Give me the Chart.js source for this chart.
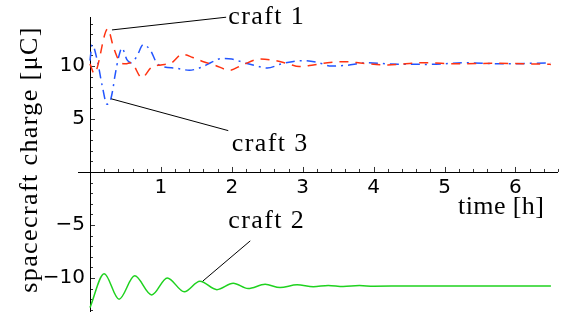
<!DOCTYPE html>
<html>
<head>
<meta charset="utf-8">
<script src="https://cdn.jsdelivr.net/npm/chart.js@4.4.1/dist/chart.umd.min.js"></script>
<style>
  html, body { margin: 0; padding: 0; background: #fff; }
  #wrap { width: 563px; height: 328px; }
</style>
</head>
<body>
<div id="wrap"><canvas id="chart"></canvas></div>
<script>
// craft 1 (red, dashed)
const craft1Time = [0, 0.06, 0.25, 0.33, 0.42, 0.5, 0.58, 0.73, 0.87, 1.0, 1.15, 1.3, 1.45, 1.6, 1.75, 1.97, 2.15, 2.4, 2.62, 2.8, 2.95, 3.15, 3.35, 3.6, 3.85, 4.2, 4.7, 5.2, 5.7, 6.2, 6.5];
const craft1Charge = [10.2, 9.3, 13.5, 11.8, 10.4, 10.2, 10.3, 8.9, 9.9, 10.1, 10.3, 11.1, 10.8, 10.4, 10.1, 9.6, 10.1, 10.65, 10.5, 10.2, 9.95, 10.1, 10.3, 10.4, 10.25, 10.1, 10.3, 10.2, 10.25, 10.2, 10.15];

// craft 2 (green, solid)
const craft2Time = [0, 0.2, 0.41, 0.63, 0.87, 1.09, 1.33, 1.55, 1.79, 2.02, 2.23, 2.47, 2.68, 2.92, 3.15, 3.36, 3.57, 3.8, 4.0, 4.5, 5.0, 6.5];
const craft2Charge = [-12.8, -9.6, -12.0, -9.8, -11.6, -10.0, -11.3, -10.3, -11.1, -10.5, -11.0, -10.6, -10.9, -10.65, -10.82, -10.7, -10.8, -10.72, -10.78, -10.75, -10.76, -10.75];

// craft 3 (blue, dash-dot)
const craft3Time = [0, 0.03, 0.11, 0.17, 0.24, 0.28, 0.32, 0.35, 0.41, 0.45, 0.52, 0.58, 0.66, 0.75, 0.85, 0.94, 1.05, 1.2, 1.4, 1.58, 1.7, 1.85, 2.0, 2.2, 2.35, 2.5, 2.7, 2.85, 3.0, 3.2, 3.4, 3.6, 3.9, 4.2, 4.8, 5.3, 5.8, 6.5];
const craft3Charge = [10.5, 12.0, 10.3, 8.2, 6.4, 6.6, 7.7, 9.0, 11.0, 11.7, 10.6, 10.3, 10.9, 12.0, 11.5, 10.3, 9.9, 9.8, 9.6, 9.9, 10.3, 10.7, 10.65, 10.25, 10.0, 9.8, 10.2, 10.4, 10.5, 10.35, 10.0, 10.05, 10.3, 10.2, 10.15, 10.3, 10.2, 10.3];

// tick labels
const xTickValues = [1, 2, 3, 4, 5, 6];
const xTickLabels = ["1", "2", "3", "4", "5", "6"];
const yTickValues = [-10, -5, 5, 10];
const yTickLabels = ["\u221210", "\u22125", "5", "10"];

const craftNames = ["craft 1", "craft 2", "craft 3"];

function toPoints(xs, ys) {
  return xs.map((t, i) => ({ x: t, y: ys[i] }));
}

// leader lines + labels, in data units
const notes = [
  { text: craftNames[0], tip: [0.31, 13.4], end: [1.92, 14.6], at: [1.95, 14.0] },
  { text: craftNames[1], tip: [1.59, -10.3], end: [2.26, -6.5], at: [1.95, -5.3] },
  { text: craftNames[2], tip: [0.30, 6.9], end: [1.95, 3.9], at: [2.0, 2.0] }
];

// Mathematica-like axes crossing at origin, ticks on the inside
const axesPlugin = {
  id: "mmaAxes",
  beforeDatasetsDraw(chart) {
    const { ctx, chartArea, scales: { x, y } } = chart;
    const x0 = x.getPixelForValue(0);
    const y0 = y.getPixelForValue(0);
    ctx.save();
    ctx.strokeStyle = "#000";
    ctx.lineWidth = 1;
    ctx.beginPath();
    ctx.moveTo(Math.round(x0) + 0.5, chartArea.top);
    ctx.lineTo(Math.round(x0) + 0.5, chartArea.bottom);
    ctx.moveTo(chartArea.left - 12, Math.round(y0) + 0.5);
    ctx.lineTo(chartArea.right, Math.round(y0) + 0.5);
    ctx.stroke();

    ctx.lineWidth = 0.8;
    ctx.beginPath();
    for (let k = 1; k <= 33; k++) {
      const t = k * 0.2;
      const px = Math.round(x.getPixelForValue(t)) + 0.5;
      const len = k % 5 === 0 ? 5 : 3;
      ctx.moveTo(px, y0);
      ctx.lineTo(px, y0 - len);
    }
    for (let v = -13; v <= 14; v++) {
      if (v === 0) continue;
      const py = Math.round(y.getPixelForValue(v)) + 0.5;
      const len = v % 5 === 0 ? 5 : 3;
      ctx.moveTo(x0, py);
      ctx.lineTo(x0 + len, py);
    }
    ctx.stroke();
    ctx.restore();
  }
};

const labelPlugin = {
  id: "craftLabels",
  afterDraw(chart) {
    const { ctx, chartArea, scales: { x, y } } = chart;
    ctx.save();
    ctx.strokeStyle = "#000";
    ctx.fillStyle = "#000";
    ctx.lineWidth = 1;
    ctx.font = '26px "Liberation Serif"';
    ctx.letterSpacing = "1.4px";
    ctx.textBaseline = "alphabetic";
    notes.forEach(n => {
      ctx.beginPath();
      ctx.moveTo(x.getPixelForValue(n.tip[0]), y.getPixelForValue(n.tip[1]));
      ctx.lineTo(x.getPixelForValue(n.end[0]), y.getPixelForValue(n.end[1]));
      ctx.stroke();
      ctx.fillText(n.text, x.getPixelForValue(n.at[0]), y.getPixelForValue(n.at[1]));
    });

    // axis titles
    ctx.letterSpacing = "0.4px";
    ctx.fillText("time [h]", x.getPixelForValue(5.19), y.getPixelForValue(-3.96));
    ctx.letterSpacing = "1.4px";
    ctx.translate(30, (chartArea.top + chartArea.bottom) / 2 - 5);
    ctx.rotate(-Math.PI / 2);
    ctx.textAlign = "center";
    ctx.textBaseline = "middle";
    ctx.fillText("spacecraft charge [\u03bcC]", 0, 0);
    ctx.restore();
  }
};

const tickFont = { family: "DejaVu Sans", size: 20 };

new Chart(document.getElementById("chart"), {
  type: "line",
  data: {
    datasets: [
      {
        label: craftNames[0],
        data: toPoints(craft1Time, craft1Charge),
        borderColor: "#ff3311",
        borderWidth: 1.5,
        borderDash: [9, 7],
        pointRadius: 0,
        cubicInterpolationMode: "monotone",
        fill: false,
        clip: false
      },
      {
        label: craftNames[1],
        data: toPoints(craft2Time, craft2Charge),
        borderColor: "#1fd21f",
        borderWidth: 1.5,
        pointRadius: 0,
        cubicInterpolationMode: "monotone",
        fill: false,
        clip: false
      },
      {
        label: craftNames[2],
        data: toPoints(craft3Time, craft3Charge),
        borderColor: "#2255ff",
        borderWidth: 1.5,
        borderDash: [9, 5, 2, 5],
        pointRadius: 0,
        cubicInterpolationMode: "monotone",
        fill: false,
        clip: false
      }
    ]
  },
  options: {
    responsive: true,
    maintainAspectRatio: false,
    animation: false,
    layout: { padding: { left: 0, top: 17, right: 5, bottom: 16 } },
    plugins: {
      legend: { display: false },
      tooltip: { enabled: false }
    },
    scales: {
      x: {
        type: "linear",
        min: 0,
        max: 6.6,
        position: { y: 0 },
        grid: { display: false, drawTicks: false },
        border: { display: false },
        ticks: {
          font: tickFont,
          color: "#000",
          padding: 4,
          maxRotation: 0,
          autoSkip: false,
          callback: (v, i) => xTickLabels[i]
        },
        afterBuildTicks: s => { s.ticks = xTickValues.map(v => ({ value: v })); },
        afterFit: s => { s.height = 0; s.paddingLeft = 0; s.paddingRight = 0; }
      },
      y: {
        type: "linear",
        min: -13.21,
        max: 14.62,
        position: "left",
        grid: { display: false, drawTicks: false },
        border: { display: false },
        ticks: {
          font: tickFont,
          color: "#000",
          padding: 5,
          autoSkip: false,
          callback: (v, i) => yTickLabels[i]
        },
        afterBuildTicks: s => { s.ticks = yTickValues.map(v => ({ value: v })); },
        afterFit: s => { s.width = 90; s.paddingTop = 0; s.paddingBottom = 0; }
      }
    }
  },
  plugins: [axesPlugin, labelPlugin]
});
</script>
</body>
</html>
